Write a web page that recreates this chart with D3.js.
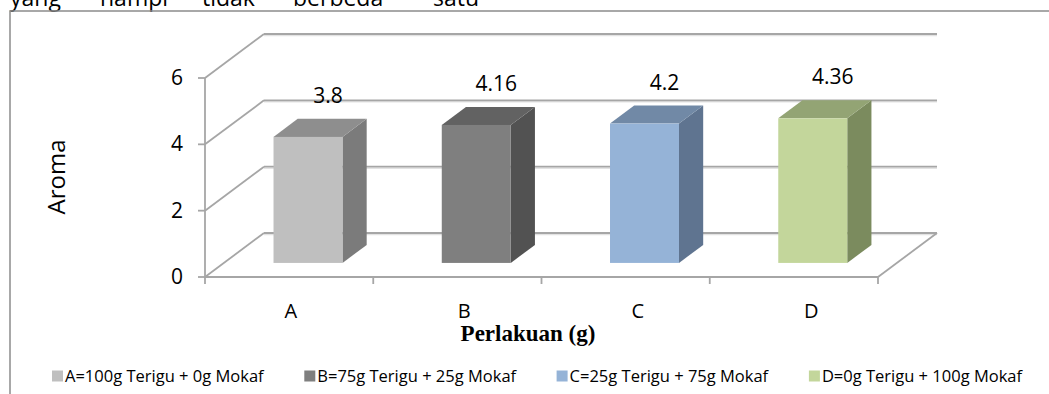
<!DOCTYPE html>
<html>
<head>
<meta charset="utf-8">
<script src="https://d3js.org/d3.v7.min.js"></script>
<style>
  body { margin: 0; background: #fff; }
  svg { display: block; }
</style>
</head>
<body>
<div id="chart"></div>
<script>
// chart data
var categories = ["A", "B", "C", "D"];
var values = [3.8, 4.16, 4.2, 4.36];
var valueLabels = ["3.8", "4.16", "4.2", "4.36"];
var yTicks = [0, 2, 4, 6];
var legendLabels = [
  "A=100g Terigu + 0g Mokaf",
  "B=75g Terigu + 25g Mokaf",
  "C=25g Terigu + 75g Mokaf",
  "D=0g Terigu + 100g Mokaf"
];
var topWords = ["yang", "nampi", "tidak", "berbeda", "satu"];

// colours per bar: front, side, top
var frontColors = ["#bfbfbf", "#7f7f7f", "#95b3d7", "#c3d69b"];
var sideColors = ["#7b7b7b", "#525252", "#5f7490", "#7b8b5e"];
var topColors = ["#8e8e8e", "#626262", "#7189a6", "#93a474"];

var W = 1049, H = 394;
var font = "'Open Sans', 'DejaVu Sans', sans-serif";

var svg = d3.select("#chart").append("svg")
  .attr("width", W)
  .attr("height", H);

// cut-off line of document text above the chart
var wordX = [10, 100, 202, 293, 433];
svg.selectAll("text.top")
  .data(topWords)
  .enter()
  .append("text")
  .attr("class", "top")
  .attr("x", function(d, i) { return wordX[i]; })
  .attr("y", 6)
  .style("font-family", font)
  .style("font-size", "23px")
  .text(function(d) { return d; });

// outer frame (runs off the right and bottom)
svg.append("path")
  .attr("d", "M10," + (H + 5) + " L10,11 L" + (W + 5) + ",11")
  .attr("fill", "none")
  .attr("stroke", "#8c8c8c")
  .attr("stroke-width", 1.5);

// scales on the front plane
var y = d3.scaleLinear().domain([0, 6]).range([277, 78]);
var x = d3.scaleBand().domain(categories).range([205, 878]);
var xLabel = d3.scaleBand().domain(categories).range([204, 898]);

// depth offset of the oblique projection
var depthX = 59, depthY = -44;
function px(xv, f) { return xv + depthX * f; }
function py(yv, f) { return yv + depthY * f; }

var gridColor = "#a6a6a6";

// back wall grid lines + side wall diagonals
yTicks.forEach(function(t) {
  // shadow
  svg.append("line")
    .attr("x1", px(x.range()[0], 1)).attr("x2", px(x.range()[1], 1))
    .attr("y1", py(y(t), 1) + 1.5).attr("y2", py(y(t), 1) + 1.5)
    .attr("stroke", "#e3e3e3").attr("stroke-width", 1.5);
  svg.append("line")
    .attr("x1", px(x.range()[0], 1)).attr("x2", px(x.range()[1], 1))
    .attr("y1", py(y(t), 1)).attr("y2", py(y(t), 1))
    .attr("stroke", gridColor).attr("stroke-width", 1.8);
  svg.append("line")
    .attr("x1", x.range()[0]).attr("y1", y(t))
    .attr("x2", px(x.range()[0], 1)).attr("y2", py(y(t), 1))
    .attr("stroke", gridColor).attr("stroke-width", 1.8);
});

// floor right edge
svg.append("line")
  .attr("x1", x.range()[1]).attr("y1", y(0))
  .attr("x2", px(x.range()[1], 1)).attr("y2", py(y(0), 1))
  .attr("stroke", gridColor).attr("stroke-width", 1.8);

// front axes
svg.append("line")
  .attr("x1", x.range()[0]).attr("x2", x.range()[1])
  .attr("y1", y(0)).attr("y2", y(0))
  .attr("stroke", gridColor).attr("stroke-width", 1.8);
svg.append("line")
  .attr("x1", x.range()[0]).attr("x2", x.range()[0])
  .attr("y1", y(6)).attr("y2", y(0))
  .attr("stroke", gridColor).attr("stroke-width", 1.8);

// y ticks and labels
yTicks.forEach(function(t) {
  svg.append("line")
    .attr("x1", x.range()[0] - 7).attr("x2", x.range()[0])
    .attr("y1", y(t)).attr("y2", y(t))
    .attr("stroke", gridColor).attr("stroke-width", 1.8);
  svg.append("text")
    .attr("x", 183)
    .attr("y", y(t) + 7)
    .attr("text-anchor", "end")
    .style("font-family", font)
    .style("font-size", "21px")
    .text(t);
});

// x ticks between categories
var xTickPos = categories.map(function(c) { return x(c); }).concat([x.range()[1]]);
xTickPos.forEach(function(p) {
  svg.append("line")
    .attr("x1", p).attr("x2", p)
    .attr("y1", y(0)).attr("y2", y(0) + 7)
    .attr("stroke", gridColor).attr("stroke-width", 1.8);
});

// 3d bars
var f1 = 0.32, f2 = 0.73;
var barW = x.bandwidth() * 0.41;

categories.forEach(function(c, i) {
  var cx = x(c) + x.bandwidth() / 2;
  var x0 = cx - barW / 2, x1 = cx + barW / 2;
  var yt = y(values[i]), yb = y(0);

  // side face
  svg.append("polygon")
    .attr("points", [
      [px(x1, f1), py(yt, f1)], [px(x1, f2), py(yt, f2)],
      [px(x1, f2), py(yb, f2)], [px(x1, f1), py(yb, f1)]
    ].join(" "))
    .attr("fill", sideColors[i]);
  // top face
  svg.append("polygon")
    .attr("points", [
      [px(x0, f1), py(yt, f1)], [px(x1, f1), py(yt, f1)],
      [px(x1, f2), py(yt, f2)], [px(x0, f2), py(yt, f2)]
    ].join(" "))
    .attr("fill", topColors[i]);
  // front face
  svg.append("rect")
    .attr("x", px(x0, f1))
    .attr("y", py(yt, f1))
    .attr("width", barW)
    .attr("height", yb - yt)
    .attr("fill", frontColors[i]);

  // value label
  svg.append("text")
    .attr("x", px(cx, f1) + 20)
    .attr("y", yt - 55 + 7)
    .attr("text-anchor", "middle")
    .style("font-family", font)
    .style("font-size", "21px")
    .text(valueLabels[i]);
});

// category labels
svg.selectAll("text.cat")
  .data(categories)
  .enter()
  .append("text")
  .attr("class", "cat")
  .attr("x", function(d) { return xLabel(d) + xLabel.bandwidth() / 2; })
  .attr("y", 318)
  .attr("text-anchor", "middle")
  .style("font-family", font)
  .style("font-size", "20px")
  .text(function(d) { return d; });

// axis titles
svg.append("text")
  .attr("x", 528)
  .attr("y", 341)
  .attr("text-anchor", "middle")
  .style("font-family", "'Liberation Serif', 'Times New Roman', serif")
  .style("font-weight", "bold")
  .style("font-size", "23px")
  .text("Perlakuan (g)");

svg.append("text")
  .attr("transform", "translate(65,177) rotate(-90)")
  .attr("text-anchor", "middle")
  .style("font-family", font)
  .style("font-size", "24px")
  .text("Aroma");

// legend
var legend = svg.selectAll("g.legend")
  .data(legendLabels)
  .enter()
  .append("g")
  .attr("class", "legend")
  .attr("transform", function(d, i) { return "translate(" + (52 + i * 252.3) + ",376)"; });

legend.append("rect")
  .attr("x", 0).attr("y", -5.5)
  .attr("width", 11).attr("height", 11)
  .attr("fill", function(d, i) { return frontColors[i]; });

legend.append("text")
  .attr("x", 13)
  .attr("y", 6)
  .style("font-family", font)
  .style("font-size", "16.5px")
  .text(function(d) { return d; });
</script>
</body>
</html>
